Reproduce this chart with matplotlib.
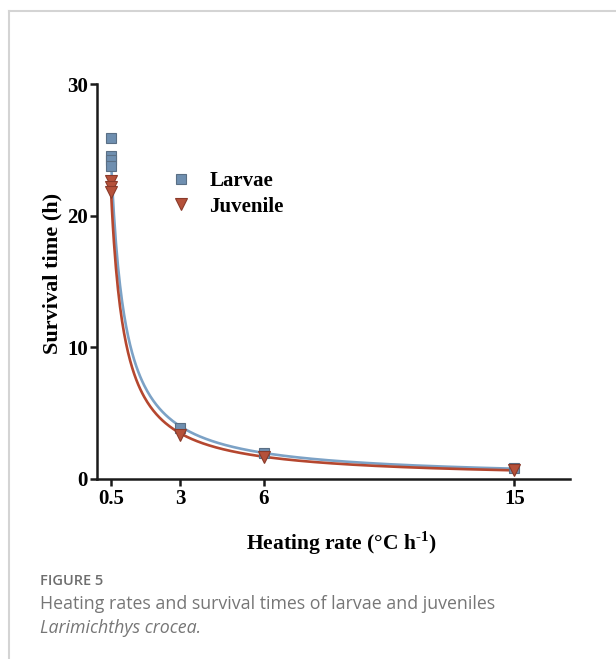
import numpy as np
import matplotlib
matplotlib.use("Agg")
import matplotlib.pyplot as plt
from matplotlib.lines import Line2D

# ── data ──────────────────────────────────────────────────────────
larvae_x = [0.5, 0.5, 0.5, 0.5, 3, 6, 15]
larvae_y = [25.9, 24.5, 24.2, 23.8, 3.9, 1.95, 0.8]
juv_x = [0.5, 0.5, 0.5, 3, 6, 15]
juv_y = [22.6, 22.2, 21.8, 3.35, 1.65, 0.68]

x_ticks = [0.5, 3, 6, 15]
x_ticklabels = ["0.5", "3", "6", "15"]
y_ticks = [0, 10, 20, 30]

C_LARV = "#6f8fb0"
C_LARV_LINE = "#7ca2c6"
C_JUV = "#b5513a"
C_JUV_LINE = "#b5472f"

plt.rcParams["mathtext.fontset"] = "custom"
plt.rcParams["mathtext.rm"] = "Liberation Serif:bold"
plt.rcParams["mathtext.bf"] = "Liberation Serif:bold"

W, H = 616, 659
fig = plt.figure(figsize=(W / 100, H / 100), dpi=100)

serif = "Liberation Serif"

# axes placed in pixel units
x0, x1, y_top, y_bot = 97, 570, 84, 479
ax = fig.add_axes([x0 / W, (H - y_bot) / H, (x1 - x0) / W, (y_bot - y_top) / H])


def power_fit(x, y):
    b, lna = np.polyfit(np.log(x), np.log(y), 1)
    return np.exp(lna), b


xx = np.linspace(0.5, 15, 400)
a_l, b_l = power_fit(np.array(larvae_x), np.array(larvae_y))
a_j, b_j = power_fit(np.array(juv_x), np.array(juv_y))

ax.plot(xx, a_l * xx ** b_l, color=C_LARV_LINE, lw=1.9, zorder=2)
ax.plot(xx, a_j * xx ** b_j, color=C_JUV_LINE, lw=1.9, zorder=2)

ax.plot(larvae_x, larvae_y, ls="none", marker="s", ms=6.5, mfc=C_LARV,
        mec="#5a6f85", mew=0.8, zorder=3)
ax.plot(juv_x, juv_y, ls="none", marker="v", ms=9, mfc=C_JUV,
        mec="#8a3a2a", mew=0.8, zorder=4)

ax.set_xlim(0, 17)
ax.set_ylim(0, 30)
ax.set_xticks(x_ticks)
ax.set_xticklabels(x_ticklabels)
ax.set_yticks(y_ticks)

for s in ["top", "right"]:
    ax.spines[s].set_visible(False)
for s in ["left", "bottom"]:
    ax.spines[s].set_linewidth(1.8)
    ax.spines[s].set_color("#1a1a1a")

ax.tick_params(direction="out", length=5, width=1.8, color="#1a1a1a")
ax.tick_params(axis="y", pad=1.5)
ax.tick_params(axis="x", pad=2.5)
for lab in ax.get_xticklabels() + ax.get_yticklabels():
    lab.set_fontfamily(serif)
    lab.set_fontweight("bold")
    lab.set_fontsize(15)

ax.set_ylabel("Survival time (h)", fontfamily=serif, fontweight="bold",
              fontsize=16)
ax.yaxis.set_label_coords(-0.074, 0.52)
ax.set_xlabel(r"Heating rate (°C h$^{\text{-1}}$)", fontfamily=serif,
              fontweight="bold", fontsize=15.5)
ax.xaxis.set_label_coords(0.517, -0.128)

# legend
leg_handles = [
    Line2D([], [], ls="none", marker="s", ms=6.5, mfc=C_LARV, mec="#5a6f85", mew=0.8),
    Line2D([], [], ls="none", marker="v", ms=8, mfc=C_JUV, mec="#8a3a2a", mew=0.8),
]
ax.legend(leg_handles, ["Larvae", "Juvenile"], loc="upper left",
          bbox_to_anchor=(0.138, 0.80), frameon=False, handlelength=1.0,
          handletextpad=0.85, labelspacing=0.25, borderaxespad=0,
          prop={"family": serif, "weight": "bold", "size": 15})

# outer frame lines (top and left)
fig.add_artist(Line2D([9 / W, 1], [1 - 11 / H, 1 - 11 / H], color="#d4d4d4", lw=1.5))
fig.add_artist(Line2D([9 / W, 9 / W], [0, 1 - 11 / H], color="#d4d4d4", lw=1.5))

# caption
fig.text(40 / W, 1 - 581 / H, "FIGURE 5", fontfamily="Open Sans", fontsize=10.5,
         fontweight="semibold", color="#6e6e6e", va="center", ha="left")
fig.text(40 / W, 1 - 604 / H,
         "Heating rates and survival times of larvae and juveniles",
         fontfamily="Open Sans", fontsize=12.8, color="#767676", va="center", ha="left")
fig.text(40 / W, 1 - 628 / H, "Larimichthys crocea.", fontfamily="Open Sans",
         fontsize=12.8, style="italic", color="#767676", va="center", ha="left")

fig.savefig("out.png", dpi=100)
